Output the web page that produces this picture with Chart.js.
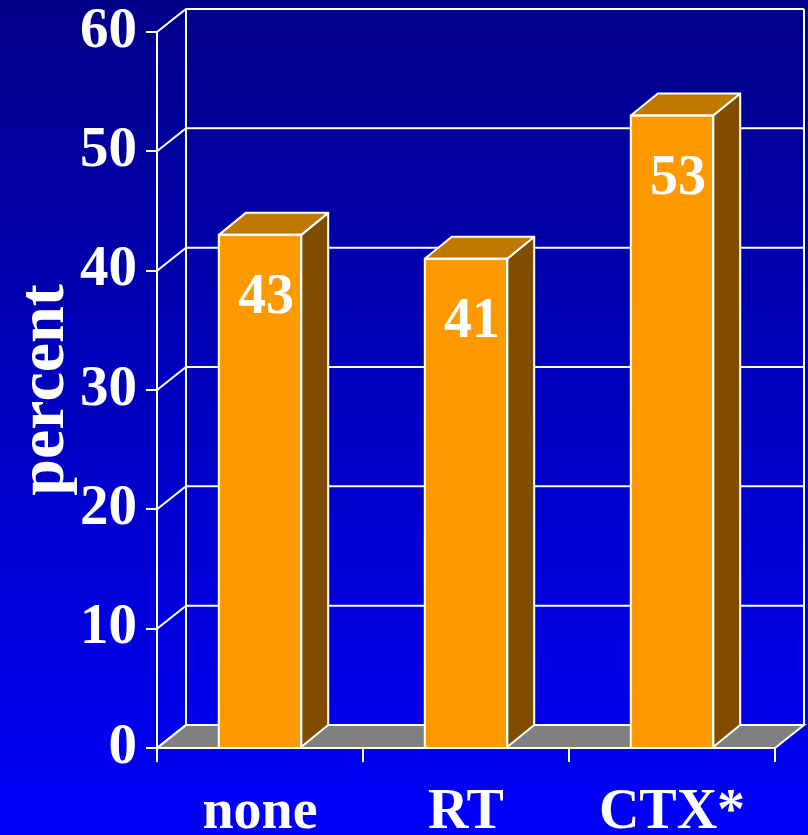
<!DOCTYPE html>
<html>
<head>
<meta charset="utf-8">
<script src="https://cdn.jsdelivr.net/npm/chart.js@4/dist/chart.umd.min.js"></script>
<style>
html,body{margin:0;padding:0;background:#0000c0;}
#wrap{width:808px;height:835px;}
canvas{display:block;}
</style>
</head>
<body>
<div id="wrap"><canvas id="c" width="808" height="835"></canvas></div>
<script>
// ---- data ----
const categories = ['none', 'RT', 'CTX*'];
const percentValues = [43, 41, 53];
const yMin = 0;
const yMax = 60;
const yStep = 10;
const yTitle = 'percent';

// ---- styles ----
const FONT = "'Liberation Serif', 'Times New Roman', serif";
const WALL_DX = 29, WALL_DY = -23;
const BAR_DX = 27, BAR_DY = -22;

const bgPlugin = {
  id: 'bg',
  beforeDraw(chart) {
    const ctx = chart.ctx;
    const g = ctx.createLinearGradient(0, 0, 0, chart.height);
    g.addColorStop(0, '#000088');
    g.addColorStop(1, '#0000fa');
    ctx.save();
    ctx.fillStyle = g;
    ctx.fillRect(0, 0, chart.width, chart.height);
    ctx.restore();
  }
};

const wallPlugin = {
  id: 'wall',
  beforeDatasetsDraw(chart) {
    const ctx = chart.ctx;
    const xs = chart.scales.x, ys = chart.scales.y;
    const L = xs.left, R = xs.right;
    const y0 = ys.getPixelForValue(yMin);
    const yTop = ys.getPixelForValue(yMax);
    ctx.save();
    ctx.lineWidth = 2;
    ctx.strokeStyle = '#ffffff';
    // floor
    ctx.beginPath();
    ctx.moveTo(L, y0);
    ctx.lineTo(R, y0);
    ctx.lineTo(R + WALL_DX, y0 + WALL_DY);
    ctx.lineTo(L + WALL_DX, y0 + WALL_DY);
    ctx.closePath();
    ctx.fillStyle = '#808080';
    ctx.fill();
    ctx.stroke();
    // back wall grid lines + connectors
    for (let v = yMin; v <= yMax; v += yStep) {
      const py = ys.getPixelForValue(v);
      ctx.beginPath();
      ctx.moveTo(L, py);
      ctx.lineTo(L + WALL_DX, py + WALL_DY);
      ctx.lineTo(R + WALL_DX, py + WALL_DY);
      ctx.stroke();
    }
    // back wall verticals
    ctx.beginPath();
    ctx.moveTo(L + WALL_DX, yTop + WALL_DY);
    ctx.lineTo(L + WALL_DX, y0 + WALL_DY);
    ctx.moveTo(R + WALL_DX, yTop + WALL_DY);
    ctx.lineTo(R + WALL_DX, y0 + WALL_DY);
    ctx.stroke();
    ctx.restore();
  },
  afterDatasetsDraw(chart) {
    const ctx = chart.ctx;
    const meta = chart.getDatasetMeta(0);
    ctx.save();
    ctx.lineWidth = 2;
    ctx.strokeStyle = '#ffffff';
    ctx.lineJoin = 'round';
    meta.data.forEach((el, i) => {
      const x1 = el.x - el.width / 2, x2 = el.x + el.width / 2;
      const top = el.y, bottom = el.base;
      // side
      ctx.beginPath();
      ctx.moveTo(x2, top);
      ctx.lineTo(x2 + BAR_DX, top + BAR_DY);
      ctx.lineTo(x2 + BAR_DX, bottom + BAR_DY);
      ctx.lineTo(x2, bottom);
      ctx.closePath();
      ctx.fillStyle = '#7f4c00';
      ctx.fill();
      ctx.stroke();
      // top
      ctx.beginPath();
      ctx.moveTo(x1, top);
      ctx.lineTo(x1 + BAR_DX, top + BAR_DY);
      ctx.lineTo(x2 + BAR_DX, top + BAR_DY);
      ctx.lineTo(x2, top);
      ctx.closePath();
      ctx.fillStyle = '#c07800';
      ctx.fill();
      ctx.stroke();
      // front outline
      ctx.beginPath();
      ctx.moveTo(x1, bottom);
      ctx.lineTo(x1, top);
      ctx.lineTo(x2, top);
      ctx.lineTo(x2, bottom);
      ctx.stroke();
      // value label
      ctx.fillStyle = '#ffffff';
      ctx.font = 'bold 56px ' + FONT;
      ctx.textAlign = 'center';
      ctx.textBaseline = 'alphabetic';
      ctx.fillText(String(percentValues[i]), el.x + 6, top + 78);
    });
    ctx.restore();
  }
};

new Chart(document.getElementById('c'), {
  type: 'bar',
  data: {
    labels: categories,
    datasets: [{
      data: percentValues,
      backgroundColor: '#ff9900',
      borderWidth: 0,
      barPercentage: 0.4,
      categoryPercentage: 1.0
    }]
  },
  options: {
    responsive: false,
    animation: false,
    devicePixelRatio: 1,
    layout: { padding: { top: 32, right: 33, left: 0, bottom: 0 } },
    plugins: { legend: { display: false }, tooltip: { enabled: false } },
    scales: {
      x: {
        afterFit(s) { s.height = 87; s.paddingLeft = 0; s.paddingRight = 0; },
        grid: { offset: true, drawOnChartArea: false, drawTicks: true, tickLength: 14, color: '#ffffff', lineWidth: 2 },
        border: { display: true, color: '#ffffff', width: 2 },
        ticks: { color: '#ffffff', padding: 18, font: { family: FONT, size: 56, weight: 'bold' } }
      },
      y: {
        min: yMin, max: yMax,
        afterFit(s) { s.width = 157; s.paddingTop = 0; s.paddingBottom = 0; },
        grid: { drawOnChartArea: false, drawTicks: true, tickLength: 11, color: '#ffffff', lineWidth: 2 },
        border: { display: true, color: '#ffffff', width: 2 },
        ticks: { stepSize: yStep, color: '#ffffff', padding: 9, font: { family: FONT, size: 57, weight: 'bold' } },
        title: { display: true, text: yTitle, color: '#ffffff', padding: { top: 6, bottom: 0 }, font: { family: FONT, size: 66, weight: 'bold' } }
      }
    }
  },
  plugins: [bgPlugin, wallPlugin]
});
</script>
</body>
</html>
